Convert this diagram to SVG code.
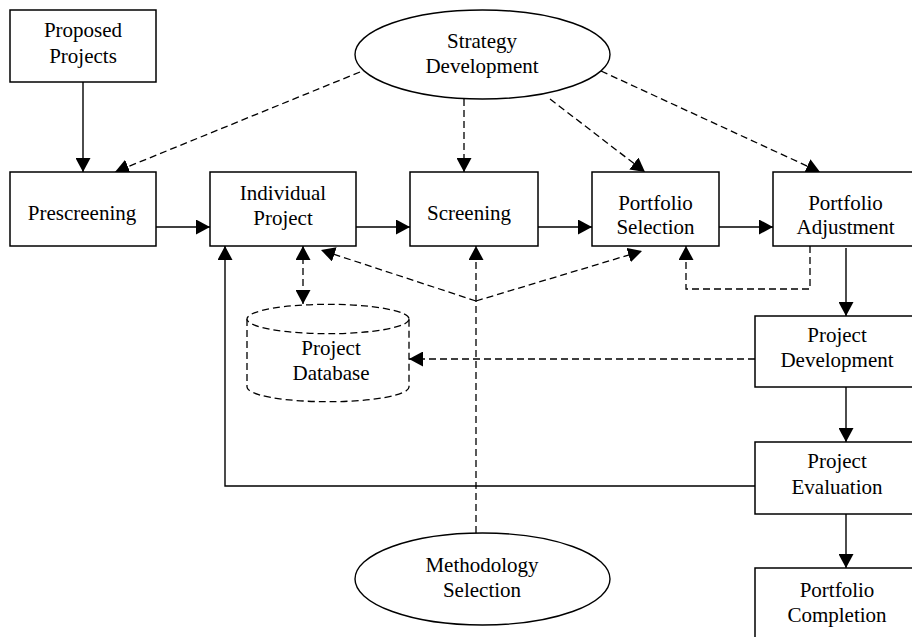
<svg xmlns="http://www.w3.org/2000/svg" width="912" height="637" viewBox="0 0 912 637" font-family="'Liberation Serif', 'Times New Roman', 'DejaVu Serif', serif">
<style>
.box{fill:#fff;stroke:#000;stroke-width:1.5}
.ell{fill:#fff;stroke:#000;stroke-width:1.4}
text{font-family:'Liberation Serif','Times New Roman','DejaVu Serif',serif;font-size:21px;fill:#000;text-anchor:middle}
.s{fill:none;stroke:#000;stroke-width:1.4}
.d{fill:none;stroke:#000;stroke-width:1.3;stroke-dasharray:7,4}
.db{fill:#fff;stroke:#000;stroke-width:1.3;stroke-dasharray:7,4}
</style>
<defs>
<marker id="ah" viewBox="0 0 14 15" refX="14" refY="7.5" markerWidth="14" markerHeight="15" markerUnits="userSpaceOnUse" orient="auto-start-reverse">
<path d="M0,0 L14,7.5 L0,15 Z" fill="#000"/>
</marker>
</defs>
<rect width="912" height="637" fill="#fff"/>

<g id="connectors">
<line class="s" x1="83" y1="82" x2="83" y2="172" marker-end="url(#ah)"/>
<line class="s" x1="156" y1="227" x2="210" y2="227" marker-end="url(#ah)"/>
<line class="s" x1="356" y1="227" x2="410" y2="227" marker-end="url(#ah)"/>
<line class="s" x1="538" y1="227" x2="592" y2="227" marker-end="url(#ah)"/>
<line class="s" x1="719" y1="227" x2="773" y2="227" marker-end="url(#ah)"/>
<line class="s" x1="846" y1="248" x2="846" y2="316" marker-end="url(#ah)"/>
<line class="s" x1="846" y1="387" x2="846" y2="442" marker-end="url(#ah)"/>
<line class="s" x1="846" y1="514" x2="846" y2="568" marker-end="url(#ah)"/>
<polyline class="s" points="755,486 225,486 225,246" marker-end="url(#ah)"/>
<line class="d" x1="360" y1="72" x2="115" y2="172" marker-end="url(#ah)"/>
<line class="d" x1="464" y1="99" x2="464" y2="172" marker-end="url(#ah)"/>
<line class="d" x1="550" y1="99" x2="645" y2="172" marker-end="url(#ah)"/>
<line class="d" x1="601" y1="71" x2="820" y2="172" marker-end="url(#ah)"/>
<line class="d" x1="476" y1="533" x2="476" y2="246" marker-end="url(#ah)"/>
<line class="d" x1="476" y1="301" x2="321" y2="250" marker-end="url(#ah)"/>
<line class="d" x1="476" y1="301" x2="642" y2="251" marker-end="url(#ah)"/>
<line class="d" x1="303" y1="246" x2="303" y2="304" marker-start="url(#ah)" marker-end="url(#ah)"/>
<polyline class="d" points="810,246 810,289 686,289 686,246" marker-end="url(#ah)"/>
<line class="d" x1="755" y1="359" x2="409" y2="359" marker-end="url(#ah)"/>
</g>

<g id="proposed-projects">
<rect class="box" x="10" y="10" width="146" height="72"/>
<text x="83" y="37">Proposed</text>
<text x="83" y="63">Projects</text>
</g>

<g id="strategy-development">
<ellipse class="ell" cx="482.5" cy="54.5" rx="127.5" ry="44.5"/>
<text x="482" y="48">Strategy</text>
<text x="482" y="73">Development</text>
</g>

<g id="prescreening">
<rect class="box" x="10" y="172" width="146" height="74"/>
<text x="82" y="220">Prescreening</text>
</g>

<g id="individual-project">
<rect class="box" x="210" y="172" width="146" height="74"/>
<text x="283" y="200">Individual</text>
<text x="283" y="225">Project</text>
</g>

<g id="screening">
<rect class="box" x="410" y="172" width="128" height="74"/>
<text x="469" y="220">Screening</text>
</g>

<g id="portfolio-selection">
<rect class="box" x="592" y="172" width="127" height="74"/>
<text x="655.5" y="210">Portfolio</text>
<text x="655.5" y="234">Selection</text>
</g>

<g id="portfolio-adjustment">
<rect class="box" x="773" y="172" width="150" height="74"/>
<text x="845.5" y="210">Portfolio</text>
<text x="845.5" y="234">Adjustment</text>
</g>

<g id="project-database">
<path class="db" d="M247,319 L247,387 A81,14.7 0 0 0 409,387 L409,319"/>
<ellipse class="db" cx="328" cy="319" rx="81" ry="14.7"/>
<text x="331" y="355">Project</text>
<text x="331" y="380">Database</text>
</g>

<g id="project-development">
<rect class="box" x="755" y="316" width="170" height="71"/>
<text x="837" y="342">Project</text>
<text x="837" y="367">Development</text>
</g>

<g id="project-evaluation">
<rect class="box" x="755" y="442" width="170" height="72"/>
<text x="837" y="468">Project</text>
<text x="837" y="494">Evaluation</text>
</g>

<g id="portfolio-completion">
<rect class="box" x="755" y="568" width="170" height="80"/>
<text x="837" y="597">Portfolio</text>
<text x="837" y="622">Completion</text>
</g>

<g id="methodology-selection">
<ellipse class="ell" cx="482.5" cy="579" rx="127.5" ry="46"/>
<text x="482" y="572">Methodology</text>
<text x="482" y="597">Selection</text>
</g>
</svg>
